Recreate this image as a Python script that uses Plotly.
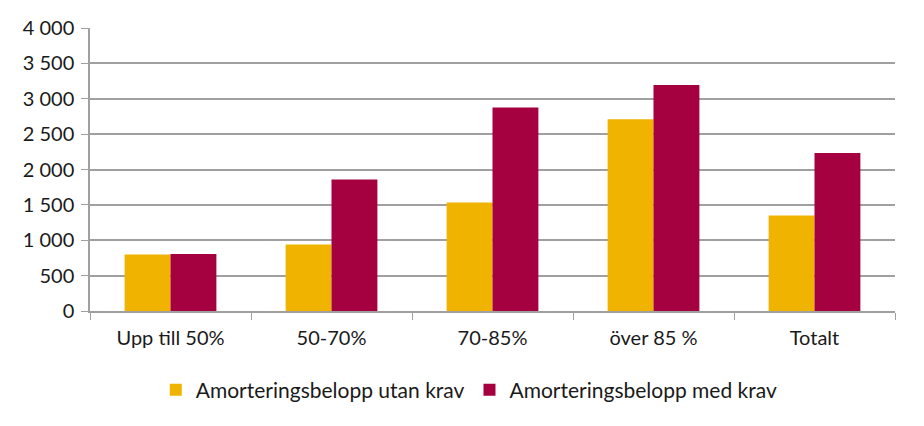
import plotly.graph_objects as go

categories = ["Upp till 50%", "50-70%", "70-85%", "över 85 %", "Totalt"]
utan_krav = [800, 940, 1535, 2710, 1350]
med_krav = [805, 1858, 2875, 3195, 2232]

fig = go.Figure()
fig.add_trace(go.Bar(x=categories, y=utan_krav, name="Amorteringsbelopp utan krav",
                     marker=dict(color="#F0B400", line=dict(width=0))))
fig.add_trace(go.Bar(x=categories, y=med_krav, name="Amorteringsbelopp med krav",
                     marker=dict(color="#A50040", line=dict(width=0))))

# page has an 8px body margin, so the figure is a bit smaller than the window
fig.update_layout(
    width=908, height=410,
    margin=dict(l=82, r=21, t=20, b=107, autoexpand=False),
    plot_bgcolor="white", paper_bgcolor="white",
    barmode="group", bargap=0.43, bargroupgap=0,
    separators=", ",
    font=dict(family="Lato, Noto Sans, sans-serif", size=20, color="#1a1a1a"),
    legend=dict(orientation="h", xref="container", x=0.508, xanchor="center",
                yref="container", y=0.068, yanchor="middle",
                font=dict(size=21), itemwidth=30, traceorder="normal"),
    showlegend=True,
)
fig.update_xaxes(showline=True, linecolor="#A0A0A0", linewidth=1.5,
                 ticks="outside", tickson="boundaries", ticklen=7, tickcolor="#A0A0A0",
                 tickfont=dict(size=20), ticklabelstandoff=8,
                 showgrid=False, automargin=False)
fig.update_yaxes(range=[0, 4000], dtick=500, tickformat=",d",
                 showline=True, linecolor="#A0A0A0", linewidth=1.5,
                 ticks="outside", ticklen=7, tickcolor="#A0A0A0",
                 gridcolor="#A0A0A0", gridwidth=1.5, zeroline=False,
                 tickfont=dict(size=20), ticklabelstandoff=3, automargin=False)

fig.write_html("out.html")
